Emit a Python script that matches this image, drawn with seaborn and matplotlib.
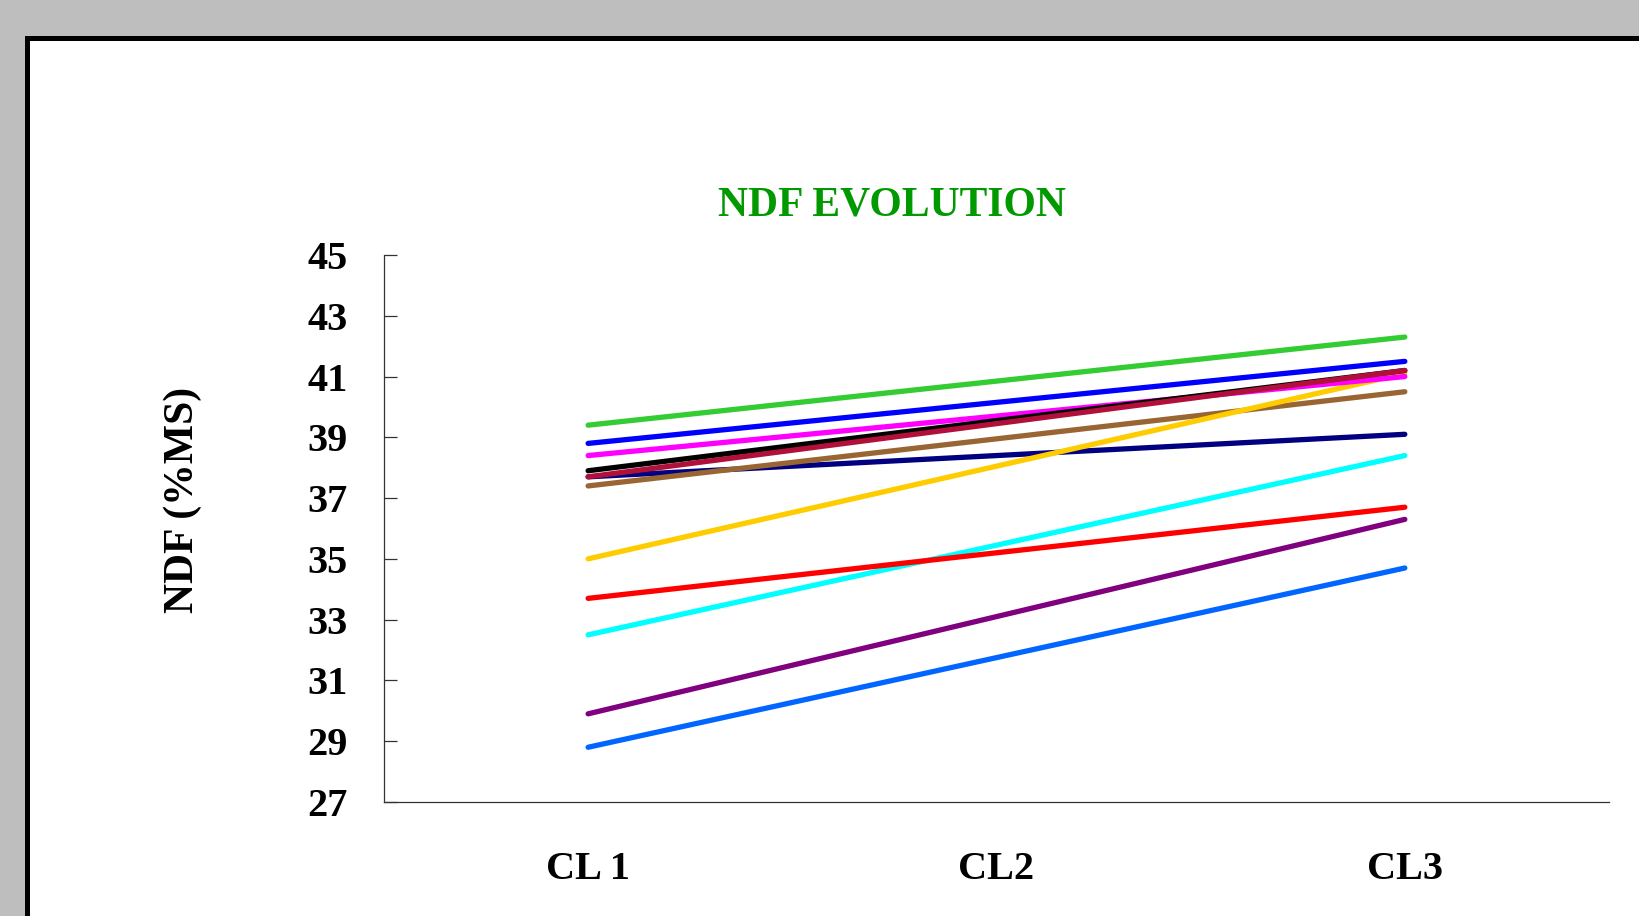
import pandas as pd
import numpy as np
import matplotlib.pyplot as plt
import matplotlib.patches as patches
import seaborn as sns

# stages on the x axis
stages = ["CL 1", "CL2", "CL3"]

# NDF (%MS) per sample (drawing order = list order)
s_navy = [37.7, 38.4, 39.1]
s_cyan = [32.5, 35.45, 38.4]
s_red = [33.7, 35.2, 36.7]
s_brown = [37.4, 38.95, 40.5]
s_gold = [35.0, 38.05, 41.1]
s_magenta = [38.4, 39.7, 41.0]
s_black = [37.9, 39.55, 41.2]
s_crimson = [37.7, 39.45, 41.2]
s_green = [39.4, 40.85, 42.3]
s_blue = [38.8, 40.15, 41.5]
s_purple = [29.9, 33.1, 36.3]
s_dodger = [28.8, 31.75, 34.7]

series = {
    "navy": s_navy, "cyan": s_cyan, "red": s_red, "brown": s_brown,
    "gold": s_gold, "magenta": s_magenta, "black": s_black,
    "crimson": s_crimson, "green": s_green, "blue": s_blue,
    "purple": s_purple, "dodger": s_dodger,
}
colors = {
    "navy": "#000080", "cyan": "#00FFFF", "red": "#FF0000",
    "brown": "#996633", "gold": "#FFCC00", "magenta": "#FF00FF",
    "black": "#000000", "crimson": "#B0103A", "green": "#33CC33",
    "blue": "#0000FF", "purple": "#800080", "dodger": "#0066FF",
}

rows = []
for name, vals in series.items():
    for i, v in enumerate(vals):
        rows.append({"stage": i, "ndf": v, "sample": name})
df = pd.DataFrame(rows)

sns.set_style("white")
plt.rcParams["font.family"] = ["Liberation Serif", "DejaVu Serif"]
plt.rcParams["font.weight"] = "bold"
plt.rcParams["text.color"] = "black"
plt.rcParams["xtick.color"] = "black"
plt.rcParams["ytick.color"] = "black"

fig = plt.figure(figsize=(16.4, 9.16), dpi=100)
fig.patch.set_facecolor("#BEBEBE")
panel = patches.Rectangle((27.5 / 1640, -0.1), 1.2, (916 - 37.5) / 916 + 0.1,
                          transform=fig.transFigure, facecolor="white",
                          edgecolor="black", linewidth=3.6, zorder=-10)
fig.patches.append(panel)

ax = fig.add_axes([0.2341, 0.1245, 0.747, 0.5971])
ax.set_zorder(5)
ax.set_facecolor("none")
sns.lineplot(data=df, x="stage", y="ndf", hue="sample",
             hue_order=list(series.keys()), palette=colors,
             linewidth=3.8, legend=False, ax=ax,
             solid_capstyle="round")

ax.set_xlim(-0.5, 2.5)
ax.set_ylim(27, 45)
ax.set_yticks(np.arange(27, 46, 2))
ax.set_xticks(range(len(stages)))
ax.set_xticklabels(stages)
ax.tick_params(axis="y", left=True, direction="in", length=9, width=0.9,
               color="#333333", labelcolor="black", pad=26, labelsize=29)
ax.tick_params(axis="x", bottom=False, length=0, pad=35, labelsize=29,
               labelcolor="black")
for lab in ax.get_xticklabels() + ax.get_yticklabels():
    lab.set_fontweight("bold")

for side in ["top", "right"]:
    ax.spines[side].set_visible(False)
for side in ["left", "bottom"]:
    ax.spines[side].set_color("#333333")
    ax.spines[side].set_linewidth(0.9)

ax.set_xlabel("")
ax.set_ylabel("")
fig.text(183 / 1640, 1 - 500 / 916, "NDF (%MS)", rotation=90, color="black",
         ha="center", va="center", fontsize=30, fontweight="bold")
fig.text(892 / 1640, 1 - 205 / 916, "NDF EVOLUTION", ha="center",
         va="center", fontsize=30, fontweight="bold", color="#009900")

fig.savefig("out.png", dpi=100, facecolor=fig.get_facecolor())
